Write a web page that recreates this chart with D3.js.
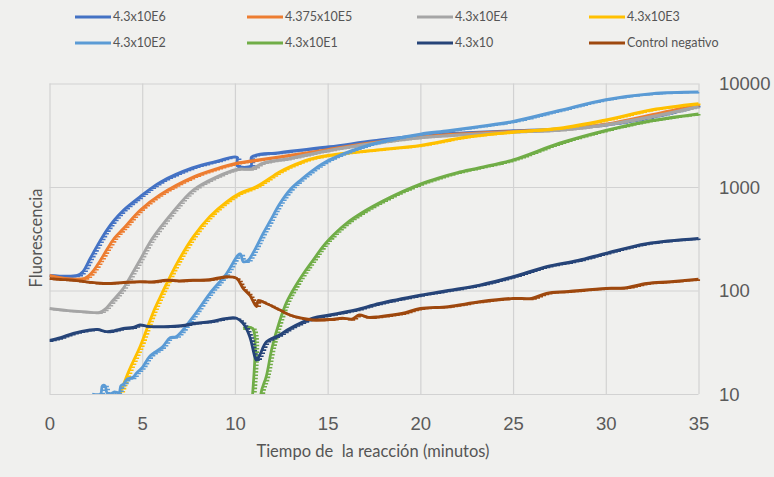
<!DOCTYPE html>
<html><head><meta charset="utf-8">
<script src="https://cdn.jsdelivr.net/npm/d3@7"></script>
<style>
html,body{margin:0;padding:0;background:#f0f0ee;}
svg{display:block;font-family:Lato,"Liberation Sans",sans-serif;}
</style></head><body>
<svg id="c" width="774" height="477"></svg>
<script>
// ---------- DATA ----------
const seriesNames = ["4.3x10E6","4.375x10E5","4.3x10E4","4.3x10E3","4.3x10E2","4.3x10E1","4.3x10","Control negativo"];
const xTicks = [0,5,10,15,20,25,30,35];
const yTicks = [10,100,1000,10000];
const xTitle = "Tiempo de  la reacción (minutos)";
const yTitle = "Fluorescencia";

// [minutes, fluorescence]
const sE6 = [[0,140],[1.5,140],[1.8,152],[2.2,205],[2.6,275],[3.1,385],[3.5,480],[4,600],[4.9,810],[6,1120],[7.7,1530],[9,1770],[10.1,1940],[10.13,1600],[10.87,1600],[10.9,1950],[12.4,2150],[15.1,2450],[17.5,2800],[20,3150],[22.5,3350],[25,3500],[27.5,3650],[30,4000],[32.5,4750],[35,6100]];
const sE5 = [[0,140],[0.5,134],[1,130],[1.9,131],[2.3,150],[2.7,190],[3.08,246],[3.5,320],[4,400],[4.9,600],[5.95,840],[7.75,1250],[9,1500],[10.1,1700],[11,1800],[13,2030],[15,2300],[17.5,2700],[20,3050],[22.5,3280],[25,3450],[27.5,3600],[30,4050],[32.5,5000],[35,6300]];
const sE4 = [[0,67],[1,64],[2,62],[2.7,61.5],[3,66],[3.44,81],[3.98,105],[4.4,140],[4.88,197],[5.4,290],[5.95,400],[6.6,560],[7.75,935],[9,1250],[10.09,1480],[10.9,1500],[11.5,1700],[12.96,1890],[15,2250],[17.5,2650],[20,3000],[22.5,3220],[25,3400],[27.5,3550],[30,4000],[32.5,4800],[35,6000]];
const sE3 = [[3.8,10],[4.3,17],[4.88,28.6],[5.3,45],[5.6,62],[5.95,85],[6.3,115],[6.85,180],[7.75,330],[8.65,520],[9.55,720],[10.26,870],[11.16,1010],[12.4,1400],[12.96,1570],[14,1850],[15.1,2030],[17.8,2300],[20,2530],[22.5,3050],[25,3400],[27.5,3700],[30,4450],[32.5,5600],[35,6400]];
const sE2 = [[2.3,10],[2.75,10],[2.85,12],[3.0,12],[3.1,10.3],[3.3,10],[3.5,10.5],[3.75,10.3],[3.85,12],[4.0,12.5],[4.2,14],[4.5,14.5],[4.7,16],[5,18],[5.4,23],[6.1,28.6],[6.5,35],[6.85,36],[7.75,56],[8.65,94],[9.55,146],[10.17,220],[10.3,225],[10.45,190],[10.7,195],[10.8,204],[11.16,265],[11.5,350],[11.9,470],[12.4,680],[12.96,935],[13.5,1150],[14.2,1450],[15.1,1830],[16.9,2450],[18.5,2900],[20,3250],[21.5,3500],[23.2,3850],[25,4300],[27.5,5500],[30,7000],[32.5,8000],[35,8300]];
const sE1 = [[10.45,43],[10.95,43],[10.97,3],[11.37,3],[11.4,10],[11.7,15],[12,28],[12.4,50],[12.8,78],[13.3,113],[13.8,155],[14.2,195],[14.7,260],[15.1,315],[16,444],[17,586],[18,736],[19,900],[20,1069],[21,1228],[22,1381],[23.2,1540],[25,1830],[27.5,2650],[30,3530],[32.5,4400],[35,5100]];
const sE0 = [[0,33],[0.6,35],[1.28,38.6],[2.18,41.6],[2.6,42],[3.08,40],[3.5,41],[3.98,43],[4.5,44],[4.88,46.5],[5.3,45],[5.78,44.7],[6.5,45],[7.2,46],[7.75,48.2],[8.65,50],[9.55,53.9],[10.09,54],[10.44,48],[10.8,35.8],[11.07,23],[11.16,21.3],[11.34,23.8],[11.7,32],[12.4,37.2],[12.96,43],[14.2,54],[15.1,58],[16.5,65],[17.8,75],[20,90],[21.5,100],[23.2,113],[25,136],[26.8,170],[28.5,195],[30,229],[32.2,284],[35,319]];
const sCtrl = [[0,131],[0.6,128],[1.28,126],[2.2,120],[3.08,117],[4,120],[4.88,122],[5.5,121],[6.31,126],[7,124],[7.75,126],[8.6,127],[9.55,136],[10.09,131],[10.44,105],[10.8,90],[11.16,70],[11.25,80],[11.7,75],[12.4,65],[12.96,58],[13.6,54],[14.2,52],[15.1,52.5],[15.8,54],[16.3,53],[16.7,58],[17.2,55],[17.8,56],[19,60],[20,67],[21.5,70],[23.2,78],[25,84],[26,84],[26.8,94],[28,98],[30,105],[31,106],[32.2,117],[33.5,122],[35,129]];

const seriesData = [sE6,sE5,sE4,sE3,sE2,sE1,sE0,sCtrl];
const seriesColors = ["#4472C4","#ED7D31","#A5A5A5","#FFC000","#5B9BD5","#70AD47","#264478","#9E480E"];

// ---------- CHART ----------
const svg = d3.select("#c");
const P = {l:49.5, r:698.5, t:83.5, b:394};
const x = d3.scaleLinear().domain([0,35]).range([P.l,P.r]);
const y = d3.scaleLog().domain([10,10000]).range([P.b,P.t]);

svg.append("rect").attr("width",774).attr("height",477).attr("fill","#f0f0ee");

// grid + x labels
const gx = svg.append("g").attr("transform",`translate(0,${P.b})`)
  .call(d3.axisBottom(x).tickValues(xTicks).tickSize(-(P.b-P.t)).tickFormat(d3.format("d")));
gx.select(".domain").remove();
gx.selectAll("line").attr("stroke","#d2d2d2").attr("stroke-width",1.2);
gx.selectAll("text").attr("y",36).attr("dy",null).attr("fill","#5a5a5a")
  .style("font-size","18.5px");

// grid + right y labels
const gy = svg.append("g").attr("transform",`translate(${P.r},0)`)
  .call(d3.axisRight(y).tickValues(yTicks).tickSize(-(P.r-P.l)).tickFormat(d3.format("d")));
gy.select(".domain").remove();
gy.selectAll("line").attr("stroke","#d2d2d2").attr("stroke-width",1.2);
gy.selectAll("text").attr("x",20.5).attr("dy","0.35em").attr("fill","#5a5a5a")
  .style("font-size","18.5px");

// titles
svg.append("text").attr("x",373).attr("y",457).attr("text-anchor","middle")
  .style("font-size","16.5px").style("white-space","pre").attr("fill","#555").text(xTitle);
svg.append("text").attr("transform","translate(42,238) rotate(-90)").attr("text-anchor","middle")
  .style("font-size","16.5px").attr("fill","#555").text(yTitle);

// clip
svg.append("clipPath").attr("id","pc").append("rect")
  .attr("x",P.l).attr("y",P.t-6).attr("width",P.r-P.l+2).attr("height",P.b-P.t+6);

const line = d3.line().x(d=>x(d[0])).y(d=>y(d[1])).curve(d3.curveCatmullRom.alpha(0.5));
const plot = svg.append("g").attr("clip-path","url(#pc)");

seriesData.forEach((data,i)=>{
  const g = plot.append("g");
  const p = g.append("path").attr("d",line(data)).attr("fill","none")
    .attr("stroke",seriesColors[i]).attr("stroke-width",2.8).attr("stroke-linejoin","round");
  // dash markers sampled along the drawn path
  const node = p.node(), L = node.getTotalLength();
  let dstr = "";
  for (let s=0; s<=L; s+=3.3) {
    const q = node.getPointAtLength(s);
    dstr += `M${q.x.toFixed(1)},${(q.y+0.8).toFixed(1)}h4`;
  }
  g.append("path").attr("d",dstr).attr("fill","none")
    .attr("stroke",seriesColors[i]).attr("stroke-width",1.6);
});

// legend
const legCols = [75,247,417,589];
const legRows = [17,43];
seriesNames.forEach((n,i)=>{
  const lx = legCols[i%4], ly = legRows[Math.floor(i/4)];
  svg.append("line").attr("x1",lx).attr("x2",lx+36).attr("y1",ly).attr("y2",ly)
    .attr("stroke",seriesColors[i]).attr("stroke-width",3);
  svg.append("text").attr("x",lx+38).attr("y",ly).attr("dy","0.32em")
    .style("font-size","12.5px").attr("fill","#555").text(n);
});
</script>
</body></html>
